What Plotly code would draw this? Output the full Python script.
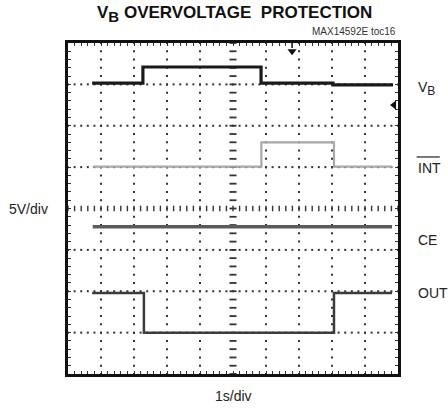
import numpy as np
import plotly.graph_objects as go

# scope traces, time in divisions (1s/div), level in divisions (5V/div)
vb_t = [0.73, 2.27, 5.85, 8.03, 9.85]
vb_v = [7.03, 7.42, 7.03, 6.99, 6.99]

int_t = [0.75, 5.86, 8.06, 9.82]
int_v = [5.01, 5.60, 5.01, 5.01]

ce_t = [0.75, 9.82]
ce_v = [3.56, 3.56]

out_t = [0.73, 2.3, 8.06, 9.82]
out_v = [1.96, 1.0, 1.96, 1.96]

trig_t = 6.79      # trigger marker at top
gnd_v = 6.5        # reference marker at right edge

channels = ["V<sub><span style='font-size:12px'>B</span></sub>", "INT", "CE", "OUT"]
channel_y = [6.91, 4.98, 3.24, 1.96]

n_x, n_y = 10, 8
FONT = "Liberation Sans, Arial, sans-serif"

fig = go.Figure()

# dotted graticule
minor_x = np.round(np.arange(0, n_x + 0.001, 0.2), 2)
minor_y = np.round(np.arange(0, n_y + 0.001, 0.2), 2)
gx, gy = [], []
for k in range(1, n_x):
    if k == n_x // 2:
        continue
    gx += [k] * len(minor_y)
    gy += list(minor_y)
for k in range(1, n_y):
    if k == n_y // 2:
        continue
    gx += list(minor_x)
    gy += [k] * len(minor_x)
fig.add_trace(go.Scatter(x=gx, y=gy, mode="markers",
                         marker=dict(symbol="square", size=2, color="#333"),
                         hoverinfo="skip"))
# centre cross with tick marks
fig.add_trace(go.Scatter(x=[n_x / 2] * len(minor_y), y=minor_y, mode="markers",
                         marker=dict(symbol="line-ew", size=5,
                                     line=dict(width=1.8, color="#333")),
                         hoverinfo="skip"))
fig.add_trace(go.Scatter(x=minor_x, y=[n_y / 2] * len(minor_x), mode="markers",
                         marker=dict(symbol="line-ns", size=4,
                                     line=dict(width=1.4, color="#333")),
                         hoverinfo="skip"))

# channel traces
fig.add_trace(go.Scatter(x=vb_t, y=vb_v, mode="lines", line_shape="hv",
                         line=dict(color="#1a1a1a", width=3.2)))
fig.add_trace(go.Scatter(x=int_t, y=int_v, mode="lines", line_shape="hv",
                         line=dict(color="#a8a8a8", width=2.2)))
fig.add_trace(go.Scatter(x=ce_t, y=ce_v, mode="lines", line_shape="hv",
                         line=dict(color="#5a5a5a", width=3.5)))
fig.add_trace(go.Scatter(x=out_t, y=out_v, mode="lines", line_shape="hv",
                         line=dict(color="#3c3c3c", width=2.5)))

# trigger and ground markers
fig.add_trace(go.Scatter(x=[trig_t, trig_t], y=[n_y, n_y - 0.12], mode="lines",
                         line=dict(color="#111", width=1.5),
                         cliponaxis=False, hoverinfo="skip"))
fig.add_trace(go.Scatter(x=[trig_t], y=[n_y - 0.2], mode="markers",
                         marker=dict(symbol="triangle-down", size=8, color="#111"),
                         cliponaxis=False, hoverinfo="skip"))
fig.add_trace(go.Scatter(x=[n_x - 0.12], y=[gnd_v], mode="markers",
                         marker=dict(symbol="triangle-left", size=8, color="#111"),
                         cliponaxis=False, hoverinfo="skip"))

axis = dict(showgrid=False, zeroline=False, showticklabels=False,
            showline=True, linecolor="#111", linewidth=2.5, mirror="ticks",
            ticks="inside", ticklen=3, tickwidth=1.3, tickcolor="#333")
fig.update_xaxes(range=[0, n_x], dtick=0.2, tick0=0, **axis)
fig.update_yaxes(range=[0, n_y], dtick=0.2, tick0=0, **axis)

# channel names to the right of the screen (paper coords so they are not hidden)
label_x = 1.0545
for name, yv in zip(channels, channel_y):
    fig.add_annotation(x=label_x, y=yv / n_y, xref="paper", yref="paper",
                       text=name, showarrow=False,
                       xanchor="left", yanchor="middle",
                       font=dict(family=FONT, size=14, color="#222"))
# overline on INT
fig.add_shape(type="line", x0=label_x + 0.002, x1=label_x + 0.072,
              y0=5.245 / n_y, y1=5.245 / n_y,
              xref="paper", yref="paper", line=dict(color="#222", width=1.2))

fig.add_annotation(x=0.506, y=1.089, xref="paper", yref="paper",
                   text="<b>V<sub><span style='font-size:15px'>B</span></sub> "
                        "OVERVOLTAGE  PROTECTION</b>",
                   showarrow=False, xanchor="center", yanchor="middle",
                   font=dict(family=FONT, size=17, color="#111"))
fig.add_annotation(x=1.0, y=1.012, xref="paper", yref="paper",
                   text="MAX14592E toc16", showarrow=False,
                   xanchor="right", yanchor="bottom",
                   font=dict(family=FONT, size=10, color="#333"))
fig.add_annotation(x=-0.12, y=0.5, xref="paper", yref="paper", text="5V/div",
                   showarrow=False, xanchor="center", yanchor="middle",
                   font=dict(family=FONT, size=14, color="#222"))
fig.add_annotation(x=0.5, y=-0.066, xref="paper", yref="paper", text="1s/div",
                   showarrow=False, xanchor="center", yanchor="middle",
                   font=dict(family=FONT, size=14, color="#222"))

fig.update_layout(
    width=448, height=409,
    margin=dict(l=68, r=50, t=43, b=35),
    paper_bgcolor="white", plot_bgcolor="white",
    showlegend=False,
)

fig.write_html("out.html", config={"displayModeBar": False},
               post_script="document.body.style.margin='0';")
